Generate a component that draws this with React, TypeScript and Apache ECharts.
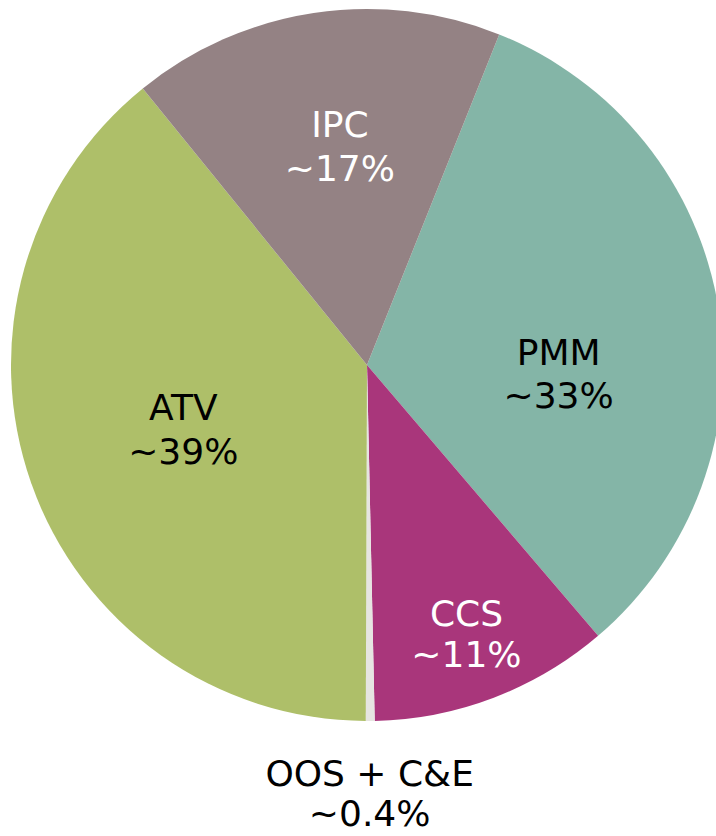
import React, { useEffect, useRef } from "react";
import * as echarts from "echarts";

const categories = ["PMM", "CCS", "OOS + C&E", "ATV", "IPC"];
const values = [32.7, 10.9, 0.4, 39.1, 16.9];
const shownPercents = ["~33%", "~11%", "~0.4%", "~39%", "~17%"];
const colors = ["#84B5A7", "#A9367B", "#E6E5E1", "#AEBF69", "#948284"];
const labelColors = ["#000000", "#FFFFFF", "#000000", "#000000", "#FFFFFF"];
const labelLineHeights = [43, 41, 40, 44, 44];
const labelOffsets: [number, number][] = [
  [13, 38],
  [35, 100],
  [1, 248],
  [-13, 4],
  [0, -40],
];

export default function App() {
  const ref = useRef<HTMLDivElement>(null);
  useEffect(() => {
    if (!ref.current) return;
    const chart = echarts.init(ref.current, undefined, { renderer: "svg" });
    chart.setOption({
      animation: false,
      backgroundColor: "#FFFFFF",
      series: [
        {
          type: "pie",
          center: [367, 365],
          radius: [0, 356],
          startAngle: 68.2,
          clockwise: true,
          silent: true,
          avoidLabelOverlap: false,
          minShowLabelAngle: 0,
          labelLine: { show: false },
          emphasis: { disabled: true },
          itemStyle: { borderWidth: 0 },
          label: {
            show: true,
            position: "inside",
            fontFamily: "DejaVu Sans",
            fontSize: 36,
            align: "center",
          },
          labelLayout: (params: any) => {
            const o = labelOffsets[params.dataIndex] || [0, 0];
            return { dx: o[0], dy: o[1] };
          },
          data: categories.map((name, i) => ({
            name,
            value: values[i],
            itemStyle: { color: colors[i] },
            label: {
              formatter: `${name}\n${shownPercents[i]}`,
              color: labelColors[i],
              lineHeight: labelLineHeights[i],
              textBorderWidth: 0,
            },
          })),
        },
      ],
    });
    return () => chart.dispose();
  }, []);
  return (
    <div
      ref={ref}
      style={{ position: "fixed", left: 0, top: 0, width: 716, height: 836 }}
    />
  );
}
